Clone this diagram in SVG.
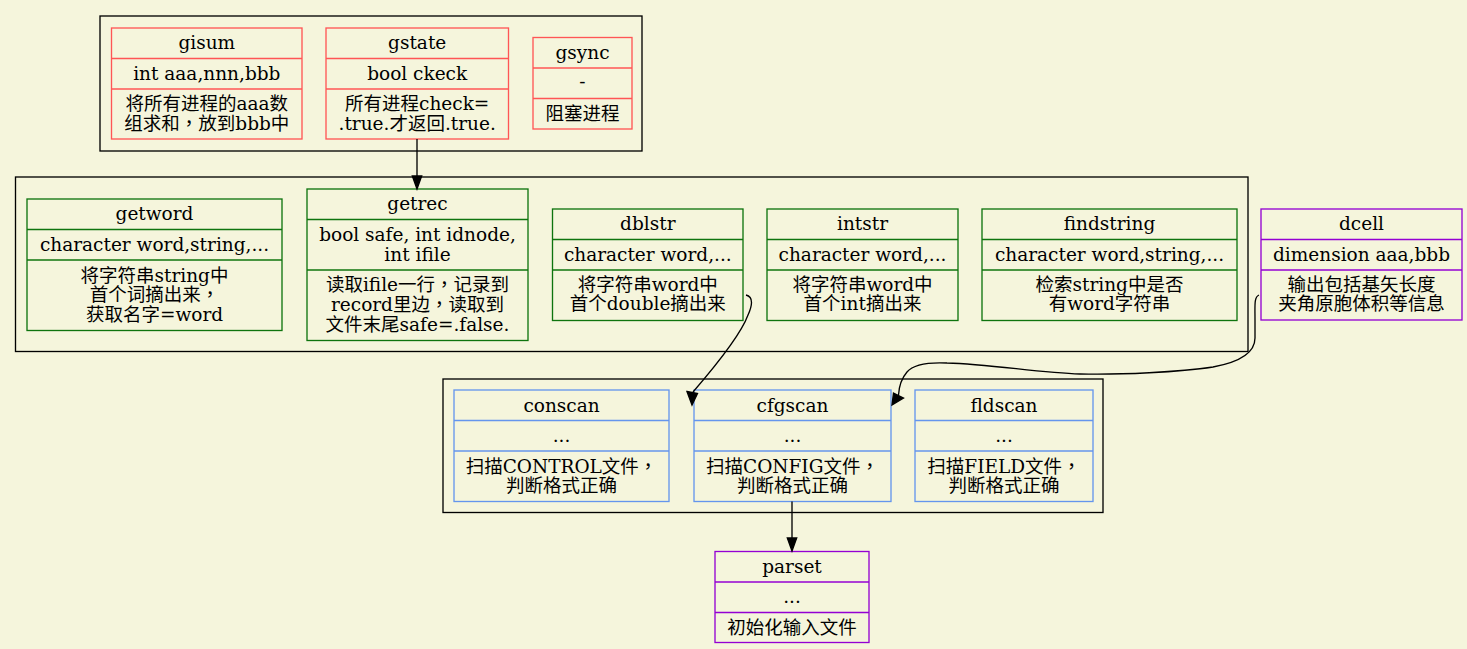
<svg xmlns="http://www.w3.org/2000/svg" width="1467" height="649" viewBox="0 0 1467 649">
<defs>
<style>
text{font-family:"DejaVu Serif","Noto Sans CJK SC",serif;font-size:18.5px;fill:#000;text-anchor:middle}
.tc{font-family:"Noto Sans CJK TC","Noto Sans CJK SC",sans-serif}
.cl{fill:none;stroke:#000;stroke-width:1.33}
.red rect,.red line{fill:none;stroke:#ff5555;stroke-width:1.33}
.grn rect,.grn line{fill:none;stroke:#0e740e;stroke-width:1.33}
.blu rect,.blu line{fill:none;stroke:#6495ed;stroke-width:1.33}
.pur rect,.pur line{fill:none;stroke:#9400d3;stroke-width:1.33}
.edge{fill:none;stroke:#000;stroke-width:1.33}
.ah{fill:#000;stroke:#000;stroke-width:1.33}
</style>
</defs>
<rect width="1467" height="649" fill="#f5f5dc"/>

<g id="clusters">
<rect class="cl" x="100" y="16" width="542" height="135"/>
<rect class="cl" x="15.5" y="177" width="1232.5" height="174.5"/>
<rect class="cl" x="443" y="379" width="660" height="133.5"/>
</g>

<g id="gisum" class="red">
<rect x="111.5" y="28" width="190.5" height="111"/>
<line x1="111.5" y1="58.5" x2="302" y2="58.5"/>
<line x1="111.5" y1="89" x2="302" y2="89"/>
<text x="206.8" y="49">gisum</text>
<text x="206.8" y="79.5">int aaa,nnn,bbb</text>
<text x="206.8" y="110">将所有进程的aaa数</text>
<text x="206.8" y="129.5">组求和<tspan class="tc">，</tspan>放到bbb中</text>
</g>

<g id="gstate" class="red">
<rect x="326" y="28" width="182.5" height="111"/>
<line x1="326" y1="58.5" x2="508.5" y2="58.5"/>
<line x1="326" y1="89" x2="508.5" y2="89"/>
<text x="417.2" y="49">gstate</text>
<text x="417.2" y="79.5">bool ckeck</text>
<text x="417.2" y="110">所有进程check=</text>
<text x="417.2" y="129.5">.true.才返回.true.</text>
</g>

<g id="gsync" class="red">
<rect x="533" y="37.5" width="99" height="91.5"/>
<line x1="533" y1="68" x2="632" y2="68"/>
<line x1="533" y1="98.5" x2="632" y2="98.5"/>
<text x="582.5" y="58.5">gsync</text>
<text x="582.5" y="88">-</text>
<text x="582.5" y="119.5">阻塞进程</text>
</g>

<g id="getword" class="grn">
<rect x="27" y="199" width="255" height="131.5"/>
<line x1="27" y1="229.5" x2="282" y2="229.5"/>
<line x1="27" y1="260" x2="282" y2="260"/>
<text x="154.5" y="219.5">getword</text>
<text x="154.5" y="250.5">character word,string,...</text>
<text x="154.5" y="281.5">将字符串string中</text>
<text x="154.5" y="301">首个词摘出来<tspan class="tc">，</tspan></text>
<text x="154.5" y="320.5">获取名字=word</text>
</g>

<g id="getrec" class="grn">
<rect x="307" y="189" width="221" height="151.5"/>
<line x1="307" y1="219.5" x2="528" y2="219.5"/>
<line x1="307" y1="270" x2="528" y2="270"/>
<text x="417.5" y="210">getrec</text>
<text x="417.5" y="240.5">bool safe, int idnode,</text>
<text x="417.5" y="260.5">int ifile</text>
<text x="417.5" y="290.5">读取ifile一行<tspan class="tc">，</tspan>记录到</text>
<text x="417.5" y="310.5">record里边<tspan class="tc">，</tspan>读取到</text>
<text x="417.5" y="330.5">文件末尾safe=.false.</text>
</g>

<g id="dblstr" class="grn">
<rect x="552.5" y="209" width="190.5" height="111.5"/>
<line x1="552.5" y1="239.5" x2="743" y2="239.5"/>
<line x1="552.5" y1="270" x2="743" y2="270"/>
<text x="647.8" y="230">dblstr</text>
<text x="647.8" y="260.5">character word,...</text>
<text x="647.8" y="290.5">将字符串word中</text>
<text x="647.8" y="310">首个double摘出来</text>
</g>

<g id="intstr" class="grn">
<rect x="767" y="209" width="191" height="111.5"/>
<line x1="767" y1="239.5" x2="958" y2="239.5"/>
<line x1="767" y1="270" x2="958" y2="270"/>
<text x="862.5" y="230">intstr</text>
<text x="862.5" y="260.5">character word,...</text>
<text x="862.5" y="290.5">将字符串word中</text>
<text x="862.5" y="310">首个int摘出来</text>
</g>

<g id="findstring" class="grn">
<rect x="982" y="209" width="255" height="111.5"/>
<line x1="982" y1="239.5" x2="1237" y2="239.5"/>
<line x1="982" y1="270" x2="1237" y2="270"/>
<text x="1109.5" y="230">findstring</text>
<text x="1109.5" y="260.5">character word,string,...</text>
<text x="1109.5" y="290.5">检索string中是否</text>
<text x="1109.5" y="310">有word字符串</text>
</g>

<g id="dcell" class="pur">
<rect x="1261" y="209" width="201" height="111"/>
<line x1="1261" y1="239.5" x2="1462" y2="239.5"/>
<line x1="1261" y1="270" x2="1462" y2="270"/>
<text x="1361.5" y="230">dcell</text>
<text x="1361.5" y="260.5">dimension aaa,bbb</text>
<text x="1361.5" y="290.5">输出包括基矢长度</text>
<text x="1361.5" y="310">夹角原胞体积等信息</text>
</g>

<g id="conscan" class="blu">
<rect x="454" y="390" width="215" height="111.5"/>
<line x1="454" y1="420.5" x2="669" y2="420.5"/>
<line x1="454" y1="451" x2="669" y2="451"/>
<text x="561.5" y="411.5">conscan</text>
<text x="561.5" y="442">...</text>
<text x="561.5" y="472.5">扫描CONTROL文件<tspan class="tc">，</tspan></text>
<text x="561.5" y="492">判断格式正确</text>
</g>

<g id="cfgscan" class="blu">
<rect x="694" y="390" width="197" height="111.5"/>
<line x1="694" y1="420.5" x2="891" y2="420.5"/>
<line x1="694" y1="451" x2="891" y2="451"/>
<text x="792.5" y="411.5">cfgscan</text>
<text x="792.5" y="442">...</text>
<text x="792.5" y="472.5">扫描CONFIG文件<tspan class="tc">，</tspan></text>
<text x="792.5" y="492">判断格式正确</text>
</g>

<g id="fldscan" class="blu">
<rect x="915" y="390" width="178" height="111.5"/>
<line x1="915" y1="420.5" x2="1093" y2="420.5"/>
<line x1="915" y1="451" x2="1093" y2="451"/>
<text x="1004" y="411.5">fldscan</text>
<text x="1004" y="442">...</text>
<text x="1004" y="472.5">扫描FIELD文件<tspan class="tc">，</tspan></text>
<text x="1004" y="492">判断格式正确</text>
</g>

<g id="parset" class="pur">
<rect x="715" y="551.5" width="154" height="91"/>
<line x1="715" y1="582" x2="869" y2="582"/>
<line x1="715" y1="612.5" x2="869" y2="612.5"/>
<text x="792" y="572.5">parset</text>
<text x="792" y="602.5">...</text>
<text x="792" y="634">初始化输入文件</text>
</g>

<g id="edges">
<path class="edge" d="M417,139 L417,176"/>
<polygon class="ah" points="412.3,176 421.7,176 417,189"/>
<path class="edge" d="M792,501.5 L792,538"/>
<polygon class="ah" points="787.3,538 796.7,538 792,551"/>
<path class="edge" d="M746,295 C754,297 752,306 748,315 C740,337 712,370 693,392"/>
<polygon class="ah" points="687,391.5 697.5,393.5 692,405"/>
<path class="edge" d="M1259,295 C1254,297 1255,305 1255,320 L1255,338 C1255,352 1240,362 1213,367 C1180,372 1120,375 1080,374 C1040,373 990,364 947,363 C925,362 912,366 907,372 C901,379 899,387 898.5,395"/>
<polygon class="ah" points="893.5,393 903.5,398 892,405"/>
</g>
</svg>
